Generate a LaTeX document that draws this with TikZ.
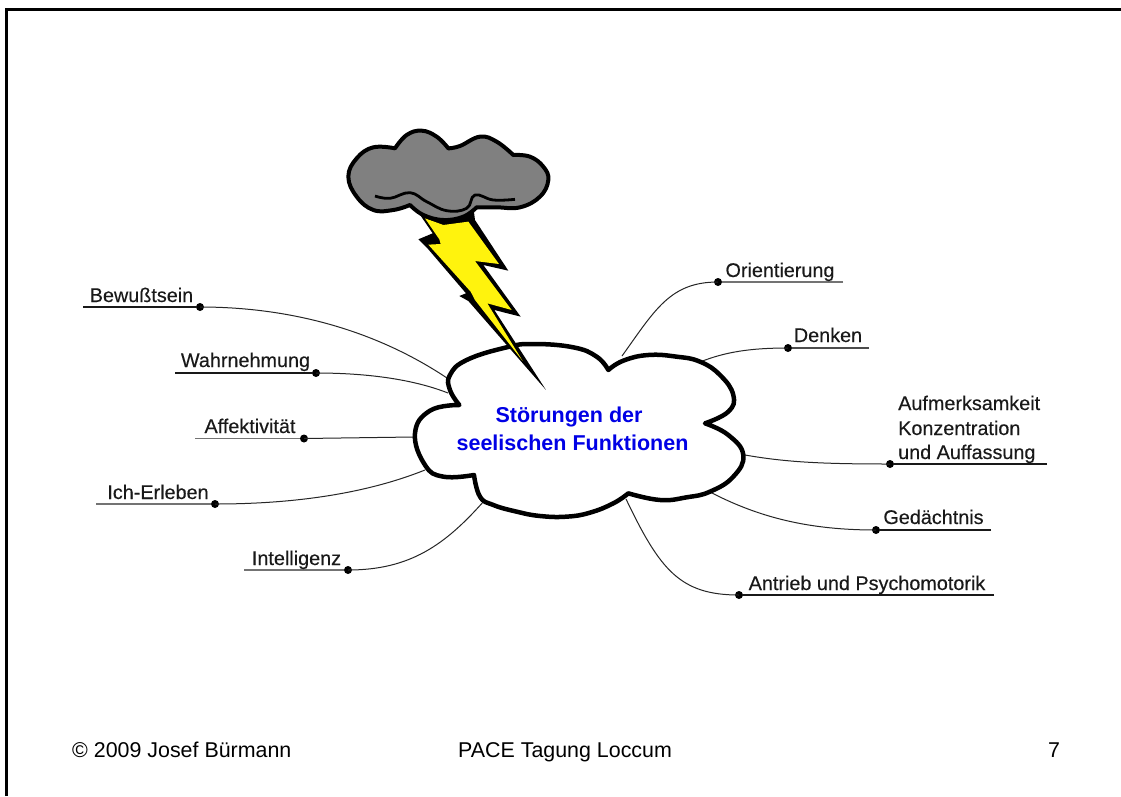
\documentclass[tikz,border=0pt]{standalone}
\usepackage{fontspec}
\setmainfont{Liberation Sans}
\newfontfamily\lblfont[FakeBold=0.25]{Liberation Sans}
\begin{document}
\begin{tikzpicture}[x=1pt,y=-1pt,
  lbl/.style={inner sep=0pt,anchor=base,font=\lblfont\fontsize{19.8}{24.5}\selectfont,text=black!90},
  foot/.style={inner sep=0pt,font=\fontsize{21.4}{24}\selectfont,anchor=base west},
  dotn/.style={circle,fill=black,inner sep=0pt,minimum size=8pt},
  ulg/.style={draw=black!55,line width=1.8pt},
  ulb/.style={draw=black!90,line width=1.3pt},
  conn/.style={draw=black!85,line width=1pt},
  cloudline/.style={line width=4.5pt,line join=round},
  ttl/.style={inner sep=0pt,anchor=base,text=blue!90!black,font=\bfseries\fontsize{21.5}{27}\selectfont}]
\useasboundingbox (0,0) rectangle (1121,796);
\fill[white] (0,0) rectangle (1121,796);
\draw[line width=3pt] (6.5,796) -- (6.5,9.5) -- (1121,9.5);
% connectors
\coordinate (cA) at (447,378); \coordinate (cB) at (448,393); \coordinate (cC) at (413,437);
\coordinate (cD) at (425,470); \coordinate (cE) at (484,501); \coordinate (cF) at (622,356);
\coordinate (cG) at (700,362); \coordinate (cH) at (745,455); \coordinate (cI) at (710,492); \coordinate (cJ) at (626,499);
\node[dotn] (dA) at (200,307) {}; \node[dotn] (dB) at (316,373) {}; \node[dotn] (dC) at (304,438.5) {};
\node[dotn] (dD) at (215,504) {}; \node[dotn] (dE) at (348,570) {}; \node[dotn] (dF) at (718,282) {};
\node[dotn] (dG) at (788,348) {}; \node[dotn] (dH) at (890,464) {}; \node[dotn] (dI) at (876,530) {}; \node[dotn] (dJ) at (739,595) {};
\coordinate (eA) at (83,307); \coordinate (eB) at (175,373); \coordinate (eC) at (195,438.5);
\coordinate (eD) at (96,504); \coordinate (eE) at (244,570); \coordinate (eF) at (843,282);
\coordinate (eG) at (869,348); \coordinate (eH) at (1047,464); \coordinate (eI) at (991,530); \coordinate (eJ) at (994,595);
\draw[ulb] (eA)--(dA); \draw[ulb] (eB)--(dB); \draw[ulg] (eC)--(dC); \draw[ulg] (eD)--(dD); \draw[ulg] (eE)--(dE);
\draw[ulg] (eF)--(dF); \draw[ulb,draw=black!70] (eG)--(dG); \draw[ulb] (eH)--(dH); \draw[ulb] (eI)--(dI); \draw[ulb] (eJ)--(dJ);
\draw[conn] (dA.center) .. controls (290,307) and (375,330) .. (cA);
\draw[conn] (dB.center) .. controls (370,373) and (415,380) .. (cB);
\draw[conn] (dC.center) -- (cC);
\draw[conn] (dD.center) .. controls (300,504) and (370,492) .. (cD);
\draw[conn] (dE.center) .. controls (410,570) and (445,545) .. (cE);
\draw[conn] (dF.center) .. controls (670,282) and (655,310) .. (cF);
\draw[conn] (dG.center) .. controls (750,348) and (725,352) .. (cG);
\draw[conn] (dH.center) .. controls (820,464) and (785,462) .. (cH);
\draw[conn] (dI.center) .. controls (810,530) and (760,518) .. (cI);
\draw[conn] (dJ.center) .. controls (680,595) and (660,570) .. (cJ);
% main cloud
\begin{scope}[shift={(400,340)},x=0.3333pt,y=-0.3333pt]
\draw[cloudline,fill=white]
 plot[smooth,tension=0.75] coordinates {(625,90)(670,62)(745,45)(830,50)(900,65)(960,105)(1000,165)(985,215)(915,250)}
 -- plot[smooth,tension=0.75] coordinates {(915,250)(985,285)(1030,345)(1000,410)(930,455)(860,472)(780,480)(685,460)}
 -- plot[smooth,tension=0.75] coordinates {(685,460)(640,490)(570,518)(500,530)(420,528)(350,515)(280,495)(240,470)(222,405)}
 -- plot[smooth,tension=0.75] coordinates {(222,405)(130,410)(75,375)(45,280)(90,212)(178,195)}
 -- plot[smooth,tension=0.75] coordinates {(178,195)(150,150)(150,105)(200,60)(320,22)(400,12)(520,22)(590,50)(625,90)}
 -- cycle;
\end{scope}
% bolt
\begin{scope}[shift={(400,200)},x=0.3333pt,y=-0.3333pt]
\fill[black] (40,15)--(98,100)--(55,118)--(85,148)--(198,280)--(178,288)--(205,303)--(438,570)--(283,330)--(362,350)--(250,195)--(325,212)--(225,60)--(220,20)--cycle;
\fill[yellow!95!white] (75,55)--(118,118)--(122,132)--(85,134)--(212,275)--(225,300)--(368,483)--(262,310)--(335,330)--(225,183)--(297,192)--(205,65)--(130,75)--cycle;
\end{scope}
\begin{scope}[shift={(340,120)},x=0.3333pt,y=-0.3333pt]
\draw[line width=4pt,line join=round,fill=black!50]
 plot[smooth,tension=0.7] coordinates {(165,85)(200,45)(245,32)(290,50)(325,85)}
 -- plot[smooth,tension=0.7] coordinates {(325,85)(360,78)(420,50)(470,65)(520,105)}
 -- plot[smooth,tension=0.7] coordinates {(520,105)(570,110)(610,140)(625,180)(600,230)(540,262)(470,262)(410,262)}
 -- plot[smooth,tension=0.7] coordinates {(410,262)(370,290)(310,300)(250,285)(210,255)}
 -- plot[smooth,tension=0.7] coordinates {(210,255)(160,270)(100,270)(50,230)(25,170)(50,115)(100,82)(165,85)}
 -- cycle;
\draw[line width=2.8pt,line join=round] plot[smooth,tension=0.7] coordinates {(105,228)(150,235)(210,218)(260,245)(320,272)(380,265)(405,225)(460,240)(525,238)};
\end{scope}
% labels
\node[lbl] (tA) at (141.5,302) {Bewußtsein};
\node[lbl] (tB) at (245.5,367) {Wahrnehmung};
\node[lbl] (tC) at (250,433) {Affektivität};
\node[lbl] (tD) at (158,499) {Ich-Erleben};
\node[lbl] (tE) at (296.5,565) {Intelligenz};
\node[lbl] (tF) at (780,277) {Orientierung};
\node[lbl] (tG) at (828,342) {Denken};
\node[lbl,anchor=base west] (tH1) at (898,410) {Aufmerksamkeit};
\node[lbl,anchor=base west] (tH2) at (898,435) {Konzentration};
\node[lbl,anchor=base west] (tH3) at (898,459) {und Auffassung};
\node[lbl] (tI) at (933.5,524) {Gedächtnis};
\node[lbl] (tJ) at (867,590) {Antrieb und Psychomotorik};
\node[ttl] (t1) at (569,422) {Störungen der};
\node[ttl] (t2) at (572.5,450) {seelischen Funktionen};
\node[foot] (f1) at (72,757) {© 2009 Josef Bürmann};
\node[foot] (f2) at (458,757) {PACE Tagung Loccum};
\node[foot] (f3) at (1048,757) {7};
\end{tikzpicture}
\end{document}
